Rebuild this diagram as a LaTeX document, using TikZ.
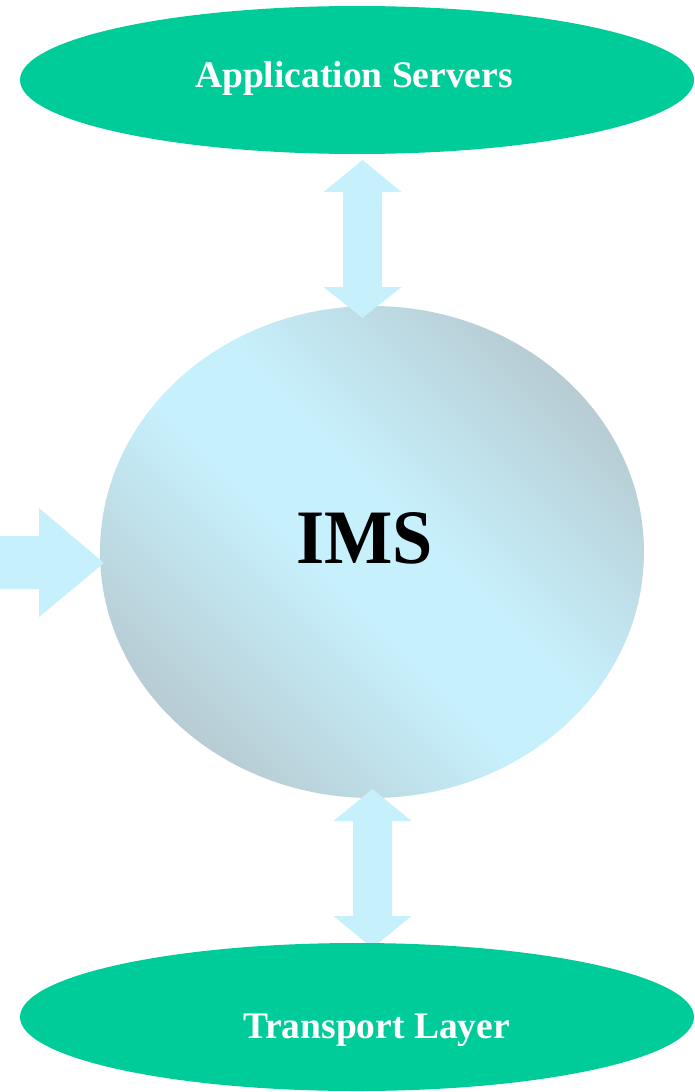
\documentclass[tikz,border=0pt]{standalone}
\usepackage{fontspec}
\setmainfont{Liberation Serif}
\usetikzlibrary{shapes.geometric}

\definecolor{layergreen}{RGB}{0,204,153}
\definecolor{flowblue}{RGB}{198,240,252}
\definecolor{imslight}{RGB}{198,240,252}
\definecolor{imsgray}{RGB}{179,193,199}

% diagonal glow for the core circle: grey rims, light band through the middle
\pgfdeclareverticalshading{imsglow}{100bp}{%
  color(0bp)=(imsgray); color(19bp)=(imsgray);
  color(45bp)=(imslight); color(55bp)=(imslight);
  color(81bp)=(imsgray); color(100bp)=(imsgray)}

\tikzset{
  layer/.style={ellipse, fill=layergreen, draw=none, inner sep=0pt, outer sep=0pt,
                minimum width=674pt, minimum height=148pt},
  layertext/.style={anchor=base, text=white, inner sep=0pt,
                    font=\fontsize{37.5}{40}\selectfont\bfseries},
  core/.style={ellipse, shade, shading=imsglow, shading angle=-45, draw=none,
               inner sep=0pt, outer sep=0pt, minimum width=544pt, minimum height=492pt},
  coretext/.style={anchor=base, text=black, inner sep=0pt,
                   font=\fontsize{77}{80}\selectfont\bfseries},
  blockarrow/.style={fill=flowblue, draw=none}
}

\begin{document}
\begin{tikzpicture}[x=1pt, y=-1pt]
  \useasboundingbox (0,0) rectangle (694,1092);

  % IMS core
  \node[core] (ims) at (372,552) {};
  \node[coretext] (imslabel) at (364.5,563) {\scalebox{0.94}[1]{IMS}};

  % two-way flow between application servers and IMS
  \fill[blockarrow] (362.5,160) -- (401.5,192) -- (382,192) -- (382,287) -- (401.5,287)
        -- (362.5,318) -- (323.5,287) -- (343,287) -- (343,192) -- (323.5,192) -- cycle;

  % two-way flow between IMS and the transport layer
  \fill[blockarrow] (372.5,789) -- (411.5,821) -- (392,821) -- (392,916) -- (411.5,916)
        -- (372.5,948) -- (333.5,916) -- (353,916) -- (353,821) -- (333.5,821) -- cycle;

  % incoming flow from the left
  \fill[blockarrow] (-2,536) -- (39,536) -- (39,508) -- (104,563) -- (39,617)
        -- (39,589) -- (-2,589) -- cycle;

  % service layers
  \node[layer] (apps) at (357,80) {};
  \node[layertext] (appslabel) at (354,87) {Application Servers};

  \node[layer] (transport) at (357,1017) {};
  \node[layertext] (transportlabel) at (376.5,1038) {Transport Layer};
\end{tikzpicture}
\end{document}
